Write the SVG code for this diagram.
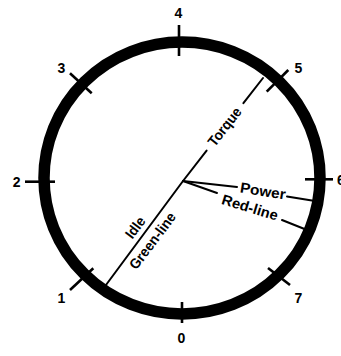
<svg xmlns="http://www.w3.org/2000/svg" width="341" height="356" viewBox="0 0 341 356">
<style>
.ring{fill:none;stroke:#000;stroke-width:11.5}
.tick{stroke:#000;stroke-width:2.6;fill:none}
.ln{stroke:#000;stroke-width:2;fill:none;stroke-linecap:round}
.num{font-family:"Liberation Sans",Arial,sans-serif;font-size:14px;font-weight:bold;fill:#000;text-anchor:middle}
.lbl{font-family:"Liberation Sans",Arial,sans-serif;font-size:14.5px;font-weight:bold;fill:#000;text-anchor:middle}
</style>
<rect width="341" height="356" fill="#fff"/>
<g id="dial">
<ellipse class="ring" cx="182" cy="178" rx="138" ry="136"/>
</g>
<g id="ticks">
<line class="tick" x1="179" y1="25" x2="179" y2="56"/>
<line class="tick" x1="182" y1="302" x2="182" y2="323"/>
<line class="tick" x1="25" y1="181.7" x2="55" y2="181.7"/>
<line class="tick" x1="305" y1="179.3" x2="333" y2="179.3"/>
<line class="tick" x1="70" y1="73.3" x2="91.7" y2="93.3"/>
<line class="tick" x1="266.7" y1="91.7" x2="288.3" y2="70"/>
<line class="tick" x1="70" y1="290" x2="93.3" y2="268.3"/>
<line class="tick" x1="268" y1="268" x2="290" y2="285"/>
</g>
<g id="scale-labels">
<text class="num" x="178.3" y="18.3">4</text>
<text class="num" x="61.5" y="73">3</text>
<text class="num" x="298.5" y="73">5</text>
<text class="num" x="16.7" y="187">2</text>
<text class="num" x="341" y="185">6</text>
<text class="num" x="61.5" y="302.5">1</text>
<text class="num" x="181.5" y="343.3">0</text>
<text class="num" x="298.5" y="302.5">7</text>
</g>
<g id="connectors">
<polyline class="ln" points="103,289 183,181 206.6,150.6"/>
<line class="ln" x1="243.4" y1="103.2" x2="263" y2="78"/>
<line class="ln" x1="183" y1="181" x2="237" y2="187"/>
<line class="ln" x1="287" y1="196.5" x2="315" y2="201"/>
<line class="ln" x1="183" y1="181" x2="217" y2="193"/>
<line class="ln" x1="282" y1="220" x2="307" y2="230"/>
</g>
<g id="torque">
<text class="lbl" transform="translate(225,127) rotate(-52)" y="4.5" textLength="45" lengthAdjust="spacingAndGlyphs">Torque</text>
</g>
<g id="idle">
<text class="lbl" transform="translate(139.2,230.6) rotate(-53)" textLength="23" lengthAdjust="spacingAndGlyphs">Idle</text>
</g>
<g id="green-line">
<text class="lbl" transform="translate(156.5,243.8) rotate(-53)" textLength="67" lengthAdjust="spacingAndGlyphs">Green-line</text>
</g>
<g id="power">
<text class="lbl" transform="translate(263,191) rotate(9)" y="5" textLength="46" lengthAdjust="spacingAndGlyphs">Power</text>
</g>
<g id="red-line">
<text class="lbl" transform="translate(250,207.5) rotate(17)" y="5" textLength="58" lengthAdjust="spacingAndGlyphs">Red-line</text>
</g>
</svg>
